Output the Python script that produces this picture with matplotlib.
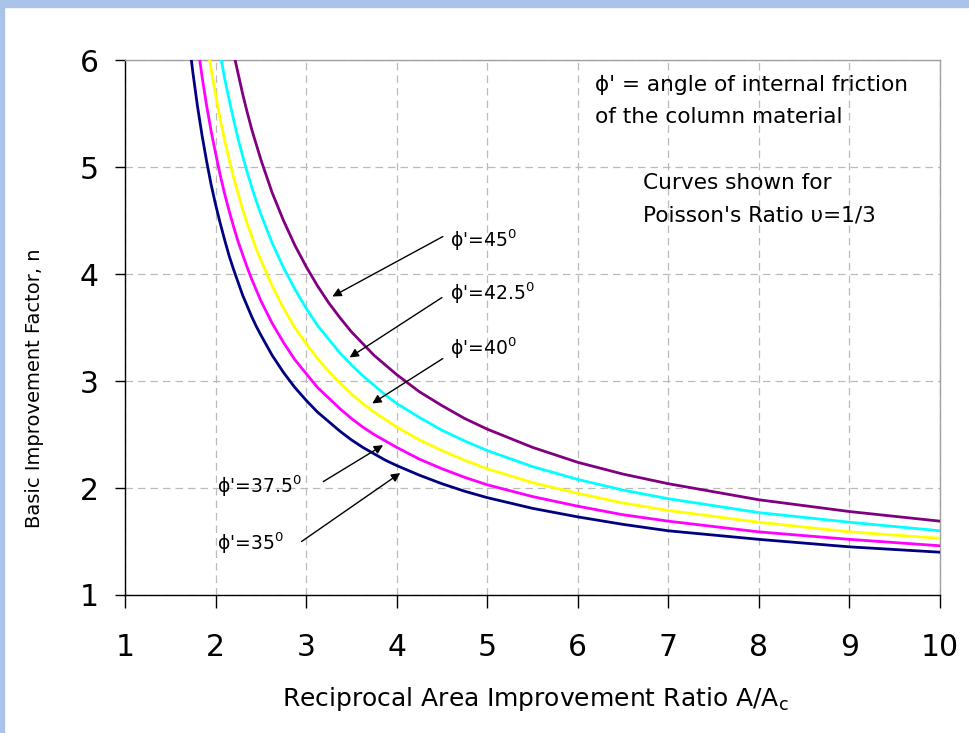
import matplotlib
matplotlib.use('Agg')
import matplotlib.pyplot as plt
from matplotlib.patches import Rectangle

plt.rcParams['font.family'] = ['DejaVu Sans']
plt.rcParams['mathtext.fontset'] = 'dejavusans'

# 读图得到的数据（A/Ac 与 n）
ratio = [1.7, 1.75, 1.8, 1.85, 1.9, 1.95, 2.0, 2.05, 2.1, 2.15, 2.2, 2.25, 2.3, 2.35,
         2.4, 2.45, 2.5, 2.625, 2.75, 2.875, 3.0, 3.125, 3.25, 3.375, 3.5, 3.625, 3.75,
         3.875, 4.0, 4.25, 4.5, 4.75, 5, 5.5, 6, 6.5, 7, 8, 9, 10]
n_35 = [6.23, 5.88, 5.57, 5.30, 5.06, 4.84, 4.65, 4.48, 4.32, 4.17, 4.04, 3.92, 3.80, 3.70,
        3.60, 3.51, 3.43, 3.24, 3.08, 2.94, 2.82, 2.71, 2.62, 2.53, 2.45, 2.38, 2.32,
        2.26, 2.21, 2.12, 2.04, 1.97, 1.91, 1.81, 1.73, 1.66, 1.60, 1.52, 1.45, 1.40]
n_37_5 = [6.89, 6.50, 6.16, 5.85, 5.58, 5.34, 5.13, 4.93, 4.75, 4.59, 4.44, 4.30, 4.18, 4.06,
          3.95, 3.85, 3.75, 3.54, 3.36, 3.20, 3.07, 2.94, 2.84, 2.74, 2.65, 2.57, 2.50,
          2.44, 2.38, 2.27, 2.18, 2.10, 2.03, 1.92, 1.83, 1.75, 1.69, 1.59, 1.52, 1.46]
n_40 = [7.66, 7.22, 6.83, 6.49, 6.19, 5.92, 5.68, 5.45, 5.25, 5.07, 4.90, 4.75, 4.60, 4.47,
        4.35, 4.23, 4.13, 3.89, 3.68, 3.50, 3.35, 3.21, 3.09, 2.98, 2.88, 2.79, 2.71,
        2.64, 2.57, 2.45, 2.35, 2.26, 2.18, 2.05, 1.95, 1.86, 1.79, 1.68, 1.59, 1.53]
n_42_5 = [8.55, 8.05, 7.62, 7.23, 6.89, 6.59, 6.31, 6.06, 5.83, 5.63, 5.44, 5.26, 5.10, 4.95,
          4.81, 4.68, 4.56, 4.29, 4.06, 3.86, 3.68, 3.52, 3.39, 3.26, 3.15, 3.05, 2.96,
          2.87, 2.79, 2.66, 2.54, 2.44, 2.35, 2.20, 2.08, 1.98, 1.90, 1.77, 1.68, 1.60]
n_45 = [9.59, 9.03, 8.54, 8.10, 7.72, 7.37, 7.06, 6.77, 6.52, 6.28, 6.06, 5.87, 5.68, 5.51,
        5.35, 5.21, 5.07, 4.76, 4.50, 4.27, 4.07, 3.89, 3.73, 3.59, 3.46, 3.35, 3.24,
        3.15, 3.06, 2.90, 2.77, 2.65, 2.55, 2.38, 2.24, 2.13, 2.04, 1.89, 1.78, 1.69]

curves = [n_35, n_37_5, n_40, n_42_5, n_45]
colors = ['#000080', '#FF00FF', '#FFFF00', '#00FFFF', '#800080']

# 标注文字与箭头（文字位置, 箭头起点, 箭头终点）
labels = ["ϕ'=35${}^{0}$", "ϕ'=37.5${}^{0}$", "ϕ'=40${}^{0}$", "ϕ'=42.5${}^{0}$", "ϕ'=45${}^{0}$"]
label_xy = [(2.02, 1.42), (2.02, 1.95), (4.59, 3.24), (4.59, 3.76), (4.59, 4.25)]
arrow_from = [(2.95, 1.50), (3.19, 2.06), (4.51, 3.21), (4.50, 3.78), (4.51, 4.35)]
arrow_to = [(4.04, 2.14), (3.85, 2.40), (3.73, 2.79), (3.48, 3.22), (3.29, 3.79)]

fig = plt.figure(figsize=(9.69, 7.33), dpi=100)
ax = fig.add_axes([125 / 969, 1 - 595 / 733, 815 / 969, 535 / 733])

# 蓝色边框
fig.patches.append(Rectangle((0, 1 - 7 / 733), 1, 7 / 733, transform=fig.transFigure,
                             color='#A9C4E8', zorder=0))
fig.patches.append(Rectangle((0, 0), 4 / 969, 1, transform=fig.transFigure,
                             color='#A9C4E8', zorder=0))

for ys, c in zip(curves, colors):
    ax.plot(ratio, ys, color=c, lw=2.0, zorder=3)

for txt, (tx, ty), p0, p1 in zip(labels, label_xy, arrow_from, arrow_to):
    ax.text(tx, ty, txt, fontsize=13.5, ha='left', va='baseline', zorder=4)
    ax.annotate('', xy=p1, xytext=p0,
                arrowprops=dict(arrowstyle='-|>', color='black', lw=1.0,
                                mutation_scale=13, shrinkA=0, shrinkB=0))

ax.text(6.19, 5.766, "ϕ' = angle of internal friction", fontsize=15.6, va='center', ha='left')
ax.text(6.19, 5.467, "of the column material", fontsize=15.6, va='center', ha='left')
ax.text(6.72, 4.85, "Curves shown for", fontsize=15.6, va='center', ha='left')
ax.text(6.72, 4.55, "Poisson's Ratio υ=1/3", fontsize=15.6, va='center', ha='left')

ax.set_xlim(1, 10)
ax.set_ylim(1, 6)
ax.set_xticks(range(1, 11))
ax.set_yticks(range(1, 7))
ax.grid(True, color='#BBBBBB', linestyle=(0, (6, 4)), lw=0.9, zorder=0)

ax.spines['left'].set_color('black')
ax.spines['bottom'].set_color('black')
ax.spines['top'].set_color('#A0A0A0')
ax.spines['right'].set_color('#A0A0A0')
for s in ax.spines.values():
    s.set_linewidth(1.0)

ax.tick_params(axis='x', direction='out', length=9, width=1, pad=18, labelsize=21.5)
ax.tick_params(axis='y', direction='out', length=7, width=1, pad=12, labelsize=21.5)

ax.set_xlabel('Reciprocal Area Improvement Ratio A/A$_\\mathrm{c}$', fontsize=18)
ax.xaxis.set_label_coords(0.503, -0.168)
ax.set_ylabel('Basic Improvement Factor, n', fontsize=14)
ax.yaxis.set_label_coords(-0.10, 0.387)

plt.savefig('out.png', dpi=100)
